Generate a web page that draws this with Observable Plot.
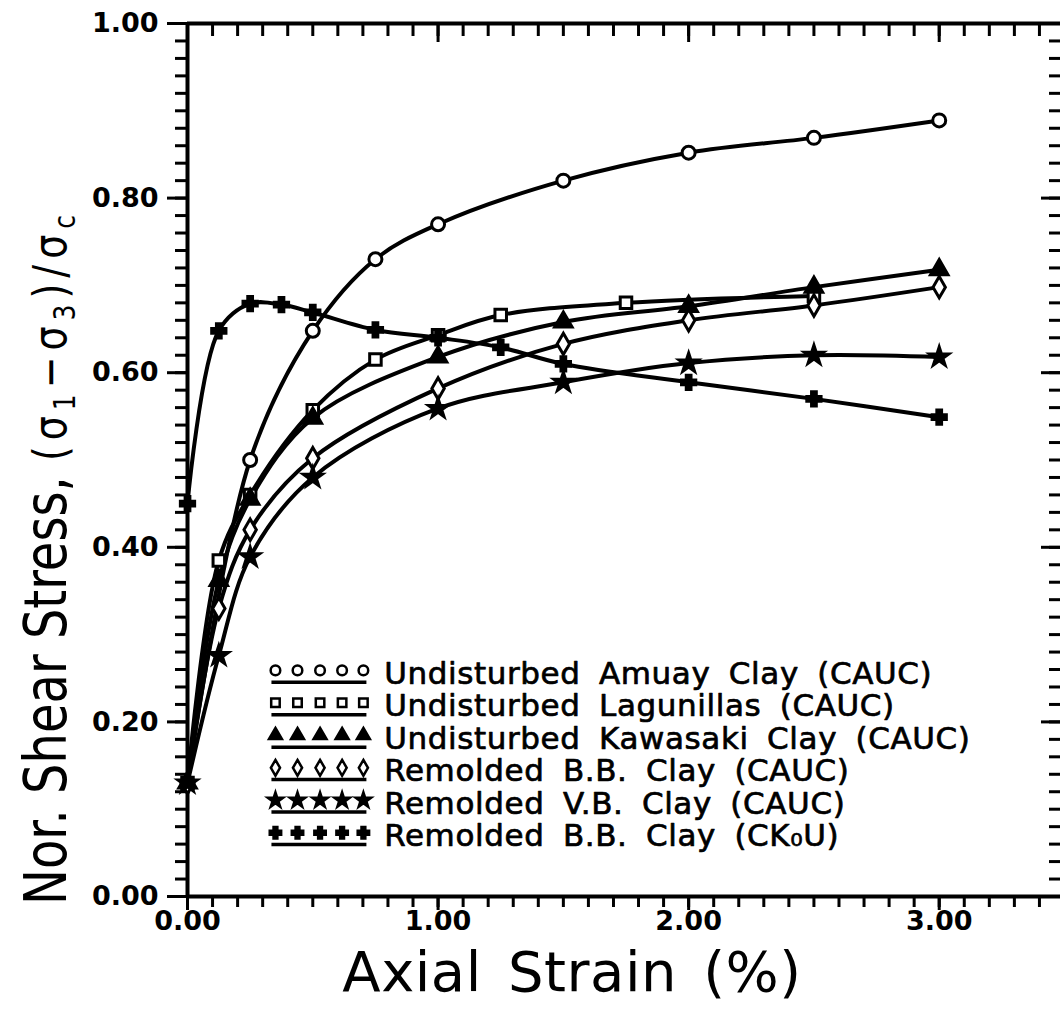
<!DOCTYPE html>
<html>
<head>
<meta charset="utf-8">
<script src="https://cdn.jsdelivr.net/npm/d3@7"></script>
<script src="https://cdn.jsdelivr.net/npm/@observablehq/plot@0.6"></script>
<style>
  html, body { margin: 0; padding: 0; background: white; }
  #chart svg { display: block; }
</style>
</head>
<body>
<div id="chart"></div>
<script>
// ---------- data ----------
const seriesNames = [
  "Undisturbed Amuay Clay (CAUC)",
  "Undisturbed Lagunillas (CAUC)",
  "Undisturbed Kawasaki Clay (CAUC)",
  "Remolded B.B. Clay (CAUC)",
  "Remolded V.B. Clay (CAUC)",
  "Remolded B.B. Clay (CK\u2080U)"
];
const seriesSymbols = ["circle", "square", "triangle", "diamond", "star", "cross"];
const seriesFilled = [false, false, true, false, true, true];

const strainAmuay = [0, 0.25, 0.5, 0.75, 1.0, 1.5, 2.0, 2.5, 3.0];
const stressAmuay = [0.13, 0.50, 0.648, 0.73, 0.77, 0.82, 0.852, 0.869, 0.889];

const strainLagunillas = [0, 0.125, 0.25, 0.5, 0.75, 1.0, 1.25, 1.75, 2.5];
const stressLagunillas = [0.13, 0.385, 0.46, 0.557, 0.615, 0.643, 0.666, 0.68, 0.688];

const strainKawasaki = [0, 0.125, 0.25, 0.5, 1.0, 1.5, 2.0, 2.5, 3.0];
const stressKawasaki = [0.13, 0.362, 0.455, 0.548, 0.618, 0.658, 0.676, 0.698, 0.718];

const strainBBCAUC = [0, 0.125, 0.25, 0.5, 1.0, 1.5, 2.0, 2.5, 3.0];
const stressBBCAUC = [0.13, 0.33, 0.42, 0.502, 0.582, 0.633, 0.660, 0.677, 0.698];

const strainVB = [0, 0.125, 0.25, 0.5, 1.0, 1.5, 2.0, 2.5, 3.0];
const stressVB = [0.13, 0.276, 0.389, 0.480, 0.559, 0.589, 0.611, 0.620, 0.618];

const strainBBCK0U = [0, 0.125, 0.25, 0.375, 0.5, 0.75, 1.0, 1.25, 1.5, 2.0, 2.5, 3.0];
const stressBBCK0U = [0.45, 0.648, 0.679, 0.678, 0.669, 0.649, 0.640, 0.629, 0.610, 0.589, 0.570, 0.549];

const xMajorTicks = [0, 1, 2, 3];
const yMajorTicks = [0, 0.2, 0.4, 0.6, 0.8, 1.0];
const xDomain = [0, 3.5];
const yDomain = [0, 1];

// ---------- build table ----------
const strains = [strainAmuay, strainLagunillas, strainKawasaki, strainBBCAUC, strainVB, strainBBCK0U];
const stresses = [stressAmuay, stressLagunillas, stressKawasaki, stressBBCAUC, stressVB, stressBBCK0U];
const rows = [];
seriesNames.forEach((name, i) => {
  strains[i].forEach((s, j) => rows.push({series: name, idx: i, strain: s, stress: stresses[i][j]}));
});

const xMinorTicks = d3.range(0, 35.01, 1).map(d => d / 10);
const yMinorTicks = d3.range(0, 50.01, 1).map(d => d / 50);

// ---------- legend layout (data space) ----------
const legSymX = [0.351, 0.439, 0.529, 0.617, 0.702];
const legLineX1 = 0.337, legLineX2 = 0.716, legTextX = 0.785;
const legTop = 0.259, legStep = 0.0372;

const marks = [];
// ticks: left outward, right inward, top inward, bottom outward
marks.push(Plot.axisY(yMinorTicks, {anchor: "left", tickSize: 12, tickFormat: () => "", label: null, strokeWidth: 3}));
marks.push(Plot.axisY(yMajorTicks, {anchor: "left", tickSize: 20, tickPadding: 9, tickFormat: d => d.toFixed(2), label: null, strokeWidth: 3, fontSize: 27, fontWeight: "bold"}));
marks.push(Plot.axisY(yMinorTicks, {anchor: "right", tickSize: -12, tickFormat: () => "", label: null, strokeWidth: 3}));
marks.push(Plot.axisY(yMajorTicks, {anchor: "right", tickSize: -20, tickFormat: () => "", label: null, strokeWidth: 3}));
marks.push(Plot.axisX(xMinorTicks, {anchor: "top", tickSize: -12, tickFormat: () => "", label: null, strokeWidth: 3}));
marks.push(Plot.axisX(xMajorTicks, {anchor: "top", tickSize: -18, tickFormat: () => "", label: null, strokeWidth: 3}));
marks.push(Plot.axisX(xMinorTicks, {anchor: "bottom", tickSize: 11, tickFormat: () => "", label: null, strokeWidth: 3}));
marks.push(Plot.axisX(xMajorTicks, {anchor: "bottom", tickSize: 14, tickPadding: 0, tickFormat: d => d.toFixed(2), label: null, strokeWidth: 3, fontSize: 27, fontWeight: "bold"}));
// frame along the scale domain
marks.push(Plot.ruleX(xDomain, {stroke: "black", strokeWidth: 4}));
marks.push(Plot.ruleY(yDomain, {stroke: "black", strokeWidth: 4}));

// curves
marks.push(Plot.line(rows, {x: "strain", y: "stress", z: "series", curve: "catmull-rom", stroke: "black", strokeWidth: 4}));

// markers + legend
seriesNames.forEach((name, i) => {
  const sym = seriesSymbols[i];
  const filled = seriesFilled[i];
  const rr = (sym === "star" || sym === "cross") ? 6 : 6.5;
  marks.push(Plot.dot(rows.filter(d => d.idx === i), {
    x: "strain", y: "stress", symbol: sym, r: rr,
    fill: filled ? "black" : "white", stroke: "black", strokeWidth: 3
  }));
  const ySym = legTop - i * legStep;
  marks.push(Plot.dot(legSymX, {
    x: d => d, y: () => ySym, symbol: sym, r: 4.8,
    fill: filled ? "black" : "white", stroke: "black", strokeWidth: 2.5
  }));
  marks.push(Plot.ruleY([ySym - 0.0135], {x1: legLineX1, x2: legLineX2, stroke: "black", strokeWidth: 3.5}));
  marks.push(Plot.text([name], {
    x: () => legTextX, y: () => ySym - 0.004, text: d => d, textAnchor: "start",
    fontSize: 31, fill: "black", stroke: "black", strokeWidth: 0.7
  }));
});

// x title
marks.push(Plot.text(["Axial Strain (%)"], {
  frameAnchor: "bottom", lineAnchor: "middle", dx: -52, dy: 77, text: d => d, fontSize: 56, fill: "black"
}));

const chart = Plot.plot({
  width: 1060,
  height: 1011,
  marginLeft: 187,
  marginRight: 0,
  marginTop: 23,
  marginBottom: 115,
  x: {domain: xDomain, range: [187, 1064]},
  y: {domain: yDomain, range: [896, 23]},
  style: {fontFamily: "DejaVu Sans", color: "black", background: "white", overflow: "hidden"},
  marks
});
document.getElementById("chart").appendChild(chart);

const svg = d3.select(chart);
// spacing for legend and x-title text
svg.selectAll("text").filter(function () { return seriesNames.includes(this.textContent); })
  .style("letter-spacing", "0.6px").style("word-spacing", "8px");
svg.selectAll("text").filter(function () { return this.textContent === "Axial Strain (%)"; })
  .style("word-spacing", "8px").style("letter-spacing", "0.5px");

// y title with sub-scripted formula
const yt = svg.append("text")
  .attr("transform", "translate(66,905) rotate(-90) scale(1,1.22)")
  .attr("font-family", "DejaVu Sans")
  .attr("text-anchor", "start")
  .attr("fill", "black")
  .attr("font-size", 48);
yt.append("tspan").text("Nor. Shear Stress, ");
const f = yt.append("tspan").attr("font-size", 38).style("letter-spacing", "6px");
f.append("tspan").text("(\u03c3");
f.append("tspan").attr("font-size", 25).attr("dy", 7).text("1");
f.append("tspan").attr("dy", -7).text("\u2212\u03c3");
f.append("tspan").attr("font-size", 25).attr("dy", 7).text("3");
f.append("tspan").attr("dy", -7).text(")/\u03c3");
f.append("tspan").attr("font-size", 25).attr("dy", 7).text("c");
</script>
</body>
</html>
